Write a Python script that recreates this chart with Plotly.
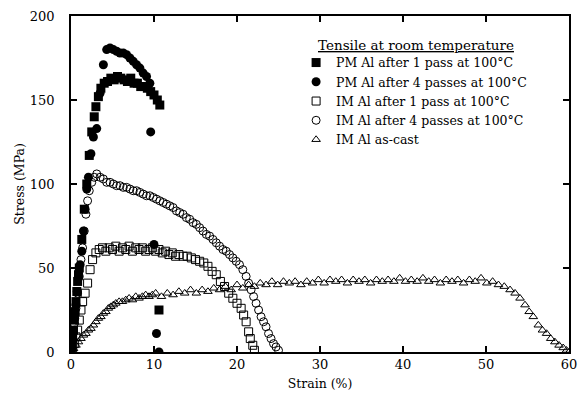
import plotly.graph_objects as go

# ---------------- data ----------------
pm1_x = [0, 0.1, 0.2, 0.3, 0.4, 0.5, 0.6, 0.7, 0.8, 0.9, 1.0, 1.3, 1.6, 1.9, 2.2, 2.5, 2.8, 3.0,
         3.3, 3.6, 4.0, 4.4, 4.8, 5.2, 5.6, 6.0, 6.4, 6.8, 7.2, 7.6, 8.0, 8.4, 8.8, 9.2, 9.6,
         10.0, 10.4, 10.7, 10.6]
pm1_y = [0, 3, 8, 13, 19, 24, 30, 36, 42, 46, 50, 67, 85, 100, 117, 131, 140, 146,
         152, 157, 160, 161, 163, 162, 164, 163, 162, 161, 163, 160, 160, 158, 158, 157, 155,
         153, 150, 147, 25]

pm4_x = [0, 0.15, 0.3, 0.45, 0.6, 0.75, 0.9, 1.1, 1.3, 1.5, 1.7, 1.9, 2.1, 2.4, 2.7, 3.1, 3.5,
         3.9, 4.3, 4.7, 5.1, 5.5, 5.9, 6.3, 6.7, 7.1, 7.5, 7.9, 8.3, 8.7, 9.1, 9.5, 9.6, 10.0,
         10.3, 10.6]
pm4_y = [0, 5, 12, 20, 28, 36, 44, 52, 60, 72, 85, 97, 104, 118, 128, 133, 154,
         171, 180, 181, 180, 179, 178, 178, 177, 175, 173, 171, 169, 166, 164, 160, 131, 64,
         11, 0]

im1_x = [0, 0.2, 0.4, 0.6, 0.8, 1.0, 1.2, 1.4, 1.7, 2.0, 2.3, 2.6, 3.0,
         3.4, 3.8, 4.2, 4.6, 5.0, 5.4, 5.8, 6.2, 6.6, 7.0, 7.4, 7.8, 8.2, 8.6, 9.0, 9.4, 9.8,
         10.2, 10.6, 11.0, 11.4, 11.8, 12.2, 12.6, 13.0, 13.5, 14.0, 14.5, 15.0, 15.5, 16.0,
         16.5, 17.0, 17.5, 18.0, 18.5, 19.0, 19.5, 20.0, 20.5, 20.8, 21.1, 21.4, 21.6, 21.9, 22.1]
im1_y = [0, 2, 5, 9, 13, 19, 25, 30, 35, 41, 49, 55, 59,
         61, 62, 60, 62, 61, 63, 60, 62, 61, 63, 60, 62, 61, 62, 60, 61, 62,
         60, 61, 59, 60, 58, 59, 57, 58, 57, 57, 56, 55, 54, 53,
         51, 48, 46, 42, 39, 35, 32, 29, 26, 22, 18, 12, 8, 4, 1]

im4_x = [0, 0.2, 0.4, 0.6, 0.8, 1.0, 1.2, 1.4, 1.6, 1.8, 2.0, 2.2, 2.5, 2.8,
         3.1, 3.5, 3.9, 4.3, 4.7, 5.1, 5.5, 5.9, 6.3, 6.7, 7.1, 7.5, 7.9, 8.3, 8.7, 9.1, 9.5,
         9.9, 10.3, 10.7, 11.1, 11.5, 11.9, 12.3, 12.7, 13.1, 13.5, 13.9, 14.3, 14.7, 15.1,
         15.5, 15.9, 16.3, 16.7, 17.1, 17.5, 17.9, 18.3, 18.7, 19.1, 19.5, 19.9, 20.3, 20.7,
         21.1, 21.4, 21.7, 22.0, 22.3, 22.6, 22.9, 23.2, 23.5, 23.8, 24.1, 24.4, 24.7, 25.0]
im4_y = [0, 8, 17, 26, 35, 45, 55, 62, 72, 82, 90, 96, 101, 104,
         106, 104, 103, 101, 101, 100, 99, 99, 98, 98, 97, 96, 96, 95, 94, 93, 93,
         92, 91, 90, 89, 88, 87, 86, 84, 83, 82, 80, 79, 77, 76,
         74, 72, 70, 69, 67, 65, 63, 61, 60, 58, 56, 54, 52, 49,
         45, 41, 37, 33, 29, 25, 21, 18, 15, 11, 8, 5, 3, 1]

cast_x = [0, 0.3, 0.6, 0.9, 1.2, 1.5, 1.8, 2.1, 2.4, 2.7, 3.0, 3.3, 3.6, 3.9, 4.2, 4.5, 4.8,
          5.1, 5.4, 5.8, 6.2, 6.6, 7.0, 7.4, 7.8, 8.2, 8.6, 9.0, 9.4, 9.8, 10.2,
          10.9, 11.6, 12.3, 13.0, 13.7, 14.4, 15.1, 15.8, 16.5, 17.2, 17.9, 18.6, 19.3, 20.0,
          20.7, 21.4, 22.1, 22.8, 23.5, 24.2, 24.9, 25.6, 26.3, 27.0, 27.7, 28.4, 29.1, 29.8,
          30.5, 31.2, 31.9, 32.6, 33.3, 34.0, 34.7, 35.4, 36.1, 36.8, 37.5, 38.2, 38.9, 39.6,
          40.3, 41.0, 41.7, 42.4, 43.1, 43.8, 44.5, 45.2, 45.9, 46.6, 47.3, 48.0, 48.7, 49.4,
          50.1, 50.8, 51.5, 52.2, 52.9, 53.5, 54.1, 54.7, 55.2, 55.7, 56.3, 56.8, 57.3, 57.8,
          58.3, 58.8, 59.3, 59.7, 60.0]
cast_y = [0, 2, 4, 6, 8, 10, 11, 13, 14, 16, 18, 20, 21, 23, 24, 26, 27,
          28, 29, 30, 30, 31, 32, 31, 33, 32, 33, 34, 33, 34, 35,
          33, 35, 34, 36, 35, 37, 35, 37, 36, 38, 37, 39, 37, 40,
          38, 40, 39, 41, 40, 42, 40, 42, 41, 42, 40, 42, 41, 43,
          41, 43, 42, 43, 41, 43, 42, 43, 41, 43, 42, 43, 42, 44,
          42, 43, 42, 44, 42, 43, 41, 43, 42, 43, 41, 43, 42, 44,
          41, 42, 40, 39, 37, 35, 32, 28, 24, 21, 16, 13, 11, 8,
          6, 4, 2.5, 1, 0]

legend_title = "Tensile at room temperature"
names = ["PM Al after 1 pass at 100°C", "PM Al after 4 passes at 100°C",
         "IM Al after 1 pass at 100°C", "IM Al after 4 passes at 100°C", "IM Al as-cast"]

x_ticks = [0, 10, 20, 30, 40, 50, 60]
y_ticks = [0, 50, 100, 150, 200]

FONT = "DejaVu Serif"
fig = go.Figure()

# open markers drawn first (filled ones on top)
fig.add_trace(go.Scatter(x=cast_x, y=cast_y, mode="markers", name=names[4], legendrank=5,
                         marker=dict(symbol="triangle-up-open", size=7.5, color="black",
                                     line=dict(width=1, color="black"))))
fig.add_trace(go.Scatter(x=im4_x, y=im4_y, mode="markers", name=names[3], legendrank=4,
                         marker=dict(symbol="circle-open", size=8, color="black",
                                     line=dict(width=1, color="black"))))
fig.add_trace(go.Scatter(x=im1_x, y=im1_y, mode="markers", name=names[2], legendrank=3,
                         marker=dict(symbol="square-open", size=8, color="black",
                                     line=dict(width=1, color="black"))))
fig.add_trace(go.Scatter(x=pm4_x, y=pm4_y, mode="markers", name=names[1], legendrank=2,
                         marker=dict(symbol="circle", size=9, color="black")))
fig.add_trace(go.Scatter(x=pm1_x, y=pm1_y, mode="markers", name=names[0], legendrank=1,
                         marker=dict(symbol="square", size=9, color="black")))

axis_common = dict(showline=True, linecolor="black", linewidth=1.5, mirror="ticks",
                   ticks="inside", ticklen=6, tickwidth=1.5, tickcolor="black",
                   showgrid=False, zeroline=False, automargin=False,
                   tickfont=dict(family=FONT, size=13, color="black"))

fig.update_layout(
    width=581, height=399,
    margin=dict(l=71, r=12, t=16, b=47),
    paper_bgcolor="white", plot_bgcolor="white",
    font=dict(family=FONT, color="black", size=12),
    xaxis=dict(range=[0, 60], tickvals=x_ticks,
               title=dict(text="Strain (%)", font=dict(family=FONT, size=12.5), standoff=8),
               **axis_common),
    yaxis=dict(range=[0, 200], tickvals=y_ticks, ticklabelstandoff=12,
               title=dict(text="Stress (MPa)", font=dict(family=FONT, size=12.5), standoff=2),
               **axis_common),
    showlegend=True,
    legend=dict(x=0.452, y=0.905, xanchor="left", yanchor="top",
                bgcolor="rgba(0,0,0,0)", borderwidth=0,
                font=dict(family=FONT, size=12.5, color="black"),
                traceorder="normal", itemsizing="trace"),
    annotations=[dict(text="<u>" + legend_title + "</u>", xref="paper", yref="paper",
                      x=0.492, y=0.884, xanchor="left", yanchor="bottom", showarrow=False,
                      font=dict(family=FONT, size=13.5, color="black"))],
)

fig.write_html("out.html", config={"displayModeBar": False},
               post_script="document.body.style.margin='0';document.body.style.overflow='hidden';")
